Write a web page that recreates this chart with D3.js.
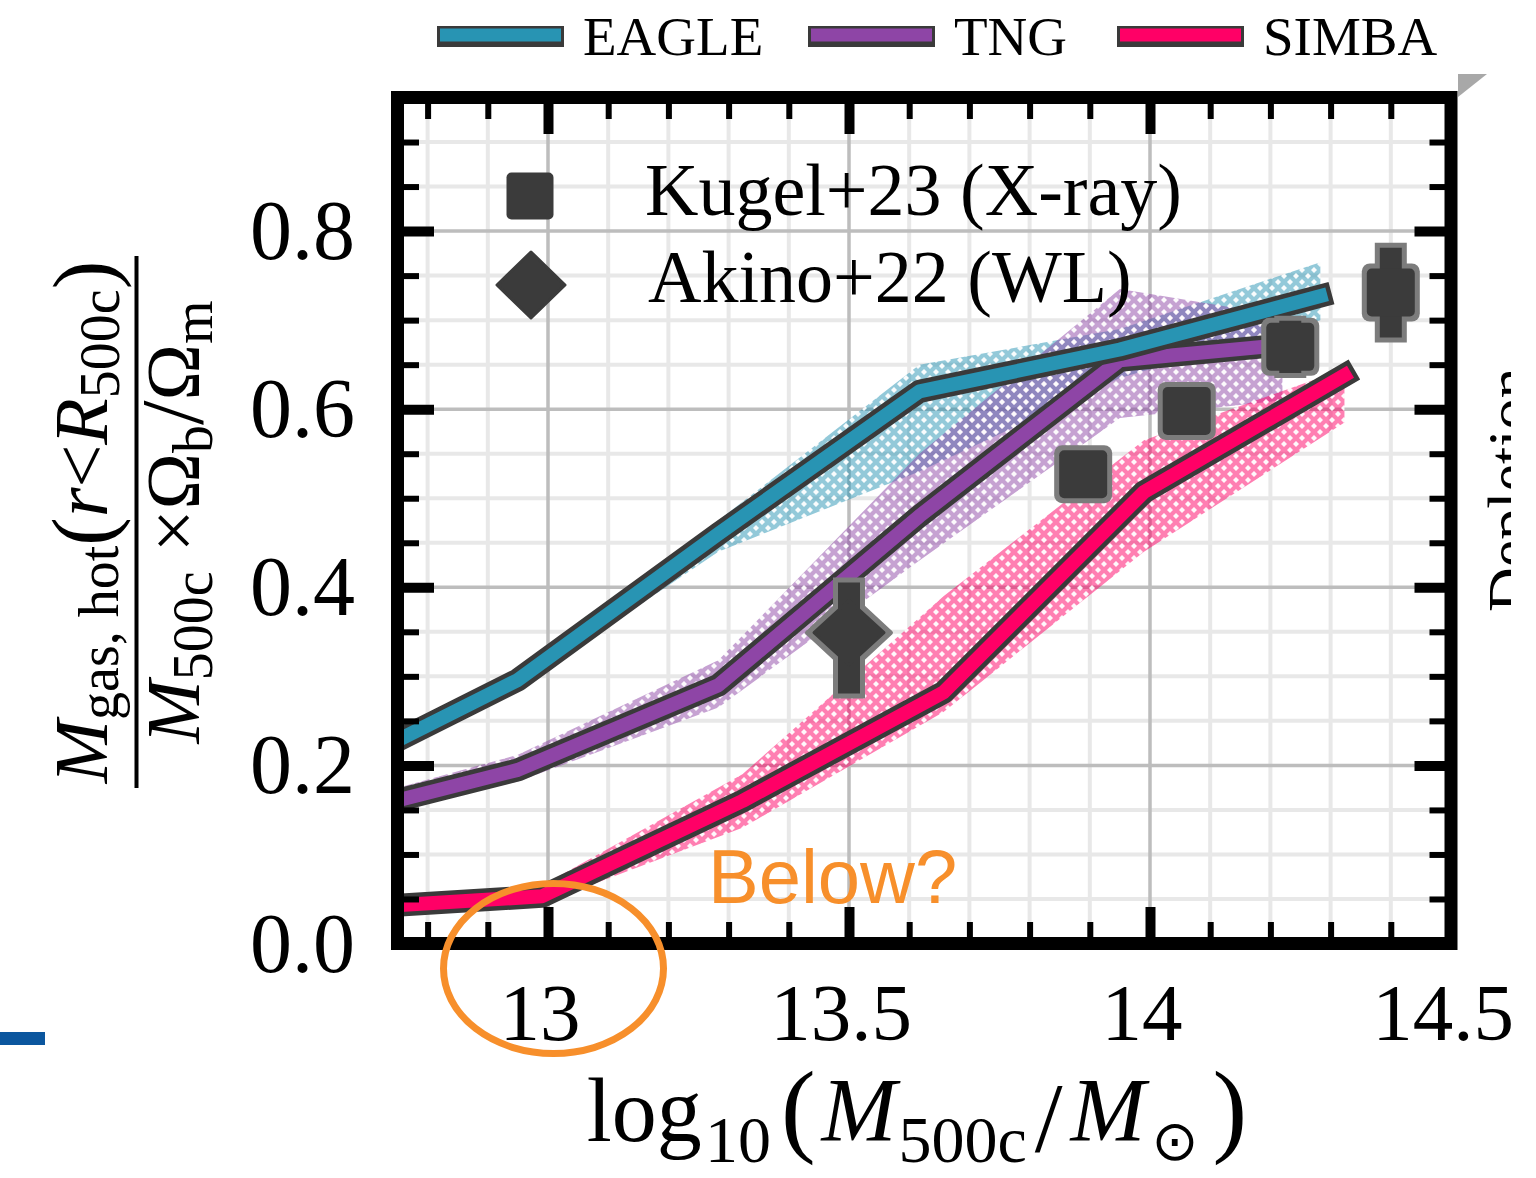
<!DOCTYPE html>
<html>
<head>
<meta charset="utf-8">
<script src="https://cdn.jsdelivr.net/npm/d3@7"></script>
<style>
  html, body { margin: 0; padding: 0; background: #ffffff; }
  svg { display: block; }
</style>
</head>
<body>
<svg id="chart" width="1536" height="1178"></svg>
<script>
// ---------- data ----------
const seriesNames = ["EAGLE", "TNG", "SIMBA"];

const eagleMass = [12.617, 12.95, 13.283, 13.617, 13.95, 14.283];
const eagleFrac = [0.183, 0.296, 0.46, 0.62, 0.667, 0.727];
const eagleLow  = [0.178, 0.288, 0.44, 0.53, 0.635, 0.70];
const eagleHigh = [0.190, 0.304, 0.475, 0.65, 0.69, 0.765];

const tngMass = [12.617, 12.95, 13.283, 13.617, 13.95, 14.22];
const tngFrac = [0.138, 0.195, 0.29, 0.48, 0.655, 0.672];
const tngLow  = [0.128, 0.182, 0.265, 0.43, 0.59, 0.61];
const tngHigh = [0.150, 0.212, 0.318, 0.55, 0.735, 0.705];

const simbaMass = [12.657, 12.99, 13.323, 13.657, 13.99, 14.323];
const simbaFrac = [0.039, 0.053, 0.16, 0.282, 0.507, 0.638];
const simbaLow  = [0.034, 0.045, 0.13, 0.26, 0.44, 0.585];
const simbaHigh = [0.045, 0.065, 0.19, 0.39, 0.565, 0.645];

const kugelMass = [13.889, 14.061, 14.233, 14.40];
const kugelFrac = [0.527, 0.598, 0.670, 0.731];
const kugelErr  = [0.02, 0.02, 0.035, 0.056];

const akinoMass = [13.5];
const akinoFrac = [0.349];
const akinoErrLow  = [0.074];
const akinoErrHigh = [0.062];

const xDomain = [12.75, 14.5];
const yDomain = [0, 0.95];
const xMajorTicks = [13, 13.5, 14];
const xLabelTicks = [13, 13.5, 14, 14.5];
const xLabelText  = ["13", "13.5", "14", "14.5"];
const yMajorTicks = [0, 0.2, 0.4, 0.6, 0.8];
const yLabelText  = ["0.0", "0.2", "0.4", "0.6", "0.8"];

const pointLabels = ["Kugel+23 (X-ray)", "Akino+22 (WL)"];

// ---------- styles ----------
const colors = { EAGLE: "#2894b3", TNG: "#8e45a6", SIMBA: "#ff0066" };
const outline = "#3a3a3a";
const markerFill = "#3b3b3b";
const markerEdge = "#7c7c7c";
const serif = "'Liberation Serif', 'Times New Roman', serif";
const sans = "'Liberation Sans', Arial, sans-serif";
const orange = "#f78f2b";

const svg = d3.select("#chart");
const defs = svg.append("defs");

defs.append("clipPath").attr("id", "pageClip")
  .append("rect").attr("x", 0).attr("y", 0).attr("width", 1511).attr("height", 1178);

const page = svg.append("g").attr("clip-path", "url(#pageClip)");

const x = d3.scaleLinear().domain(xDomain).range([397.5, 1451]);
const y = d3.scaleLinear().domain(yDomain).range([943.5, 97.5]);

defs.append("clipPath").attr("id", "plotClip")
  .append("rect")
  .attr("x", x(xDomain[0])).attr("y", y(yDomain[1]))
  .attr("width", x(xDomain[1]) - x(xDomain[0]))
  .attr("height", y(yDomain[0]) - y(yDomain[1]));

// cross-hatch fills for the scatter bands
function hatch(id, color) {
  const s = 12;
  const p = defs.append("pattern").attr("id", id)
    .attr("patternUnits", "userSpaceOnUse").attr("width", s).attr("height", s);
  p.append("rect").attr("width", s).attr("height", s).attr("fill", color).attr("fill-opacity", 0.5);
  const d = 3;
  [[0, 0], [s, 0], [0, s], [s, s], [s / 2, s / 2]].forEach(([cx, cy]) => {
    p.append("path")
      .attr("d", `M${cx},${cy - d}L${cx + d},${cy}L${cx},${cy + d}L${cx - d},${cy}Z`)
      .attr("fill", "#ffffff").attr("fill-opacity", 0.95);
  });
}
hatch("hatch-EAGLE", colors.EAGLE);
hatch("hatch-TNG", colors.TNG);
hatch("hatch-SIMBA", colors.SIMBA);

// ---------- grid ----------
const grid = page.append("g");
const xMinor = d3.range(128, 145).map(v => v / 10).filter(v => !xMajorTicks.includes(v));
const yMinor = d3.range(1, 19).map(v => v / 20).filter(v => !yMajorTicks.some(t => Math.abs(t - v) < 1e-9));

grid.selectAll(".gx").data(xMinor).join("line")
  .attr("x1", d => x(d)).attr("x2", d => x(d))
  .attr("y1", y(yDomain[0])).attr("y2", y(yDomain[1]))
  .attr("stroke", "#e8e8e8").attr("stroke-width", 4);
grid.selectAll(".gy").data(yMinor).join("line")
  .attr("y1", d => y(d)).attr("y2", d => y(d))
  .attr("x1", x(xDomain[0])).attr("x2", x(xDomain[1]))
  .attr("stroke", "#e8e8e8").attr("stroke-width", 4);
grid.selectAll(".gX").data(xMajorTicks).join("line")
  .attr("x1", d => x(d)).attr("x2", d => x(d))
  .attr("y1", y(yDomain[0])).attr("y2", y(yDomain[1]))
  .attr("stroke", "#bdbdbd").attr("stroke-width", 3.5);
grid.selectAll(".gY").data(yMajorTicks.filter(v => v > 0)).join("line")
  .attr("y1", d => y(d)).attr("y2", d => y(d))
  .attr("x1", x(xDomain[0])).attr("x2", x(xDomain[1]))
  .attr("stroke", "#bdbdbd").attr("stroke-width", 3.5);

// ---------- bands and lines ----------
const series = {
  EAGLE: { m: eagleMass, f: eagleFrac, lo: eagleLow, hi: eagleHigh },
  TNG:   { m: tngMass,   f: tngFrac,   lo: tngLow,   hi: tngHigh },
  SIMBA: { m: simbaMass, f: simbaFrac, lo: simbaLow, hi: simbaHigh }
};

const plot = page.append("g").attr("clip-path", "url(#plotClip)");

const area = d3.area().x(d => x(d.m)).y0(d => y(d.lo)).y1(d => y(d.hi));
const line = d3.line().x(d => x(d.m)).y(d => y(d.f));

const rows = name => series[name].m.map((m, i) => ({
  m, f: series[name].f[i], lo: series[name].lo[i], hi: series[name].hi[i]
}));

seriesNames.forEach(name => {
  plot.append("path").datum(rows(name))
    .attr("d", area).attr("fill", `url(#hatch-${name})`);
});

["SIMBA", "TNG", "EAGLE"].forEach(name => {
  const g = plot.append("g");
  g.append("path").datum(rows(name)).attr("d", line)
    .attr("fill", "none").attr("stroke", outline).attr("stroke-width", 23)
    .attr("stroke-linecap", "square").attr("stroke-linejoin", "round");
  g.append("path").datum(rows(name)).attr("d", line)
    .attr("fill", "none").attr("stroke", colors[name]).attr("stroke-width", 14)
    .attr("stroke-linecap", "square").attr("stroke-linejoin", "round");
});

// ---------- observational points ----------
const obs = page.append("g");
const kugel = kugelMass.map((m, i) => ({ m, f: kugelFrac[i], e: kugelErr[i] }));
const akino = akinoMass.map((m, i) => ({ m, f: akinoFrac[i], lo: akinoErrLow[i], hi: akinoErrHigh[i] }));

const sqOuter = 58, sqInner = 48, barOuter = 32, barInner = 22, edge = 5;

// grey edge layer
kugel.forEach(d => {
  obs.append("line").attr("x1", x(d.m)).attr("x2", x(d.m))
    .attr("y1", y(d.f + d.e)).attr("y2", y(d.f - d.e))
    .attr("stroke", markerEdge).attr("stroke-width", barOuter);
  obs.append("rect").attr("x", x(d.m) - sqOuter / 2).attr("y", y(d.f) - sqOuter / 2)
    .attr("width", sqOuter).attr("height", sqOuter).attr("rx", 8)
    .attr("fill", markerEdge);
});
akino.forEach(d => {
  obs.append("line").attr("x1", x(d.m)).attr("x2", x(d.m))
    .attr("y1", y(d.f + d.hi)).attr("y2", y(d.f - d.lo))
    .attr("stroke", markerEdge).attr("stroke-width", barOuter);
  const cx = x(d.m), cy = y(d.f), a = 42, b = 39;
  obs.append("path").attr("d", `M${cx},${cy - b}L${cx + a},${cy}L${cx},${cy + b}L${cx - a},${cy}Z`)
    .attr("fill", markerEdge).attr("stroke", markerEdge).attr("stroke-width", 4).attr("stroke-linejoin", "round");
});
// dark fill layer
kugel.forEach(d => {
  obs.append("line").attr("x1", x(d.m)).attr("x2", x(d.m))
    .attr("y1", y(d.f + d.e) + edge).attr("y2", y(d.f - d.e) - edge)
    .attr("stroke", markerFill).attr("stroke-width", barInner);
  obs.append("rect").attr("x", x(d.m) - sqInner / 2).attr("y", y(d.f) - sqInner / 2)
    .attr("width", sqInner).attr("height", sqInner).attr("rx", 5)
    .attr("fill", markerFill);
});
akino.forEach(d => {
  obs.append("line").attr("x1", x(d.m)).attr("x2", x(d.m))
    .attr("y1", y(d.f + d.hi) + edge).attr("y2", y(d.f - d.lo) - edge)
    .attr("stroke", markerFill).attr("stroke-width", barInner);
  const cx = x(d.m), cy = y(d.f), a = 35, b = 32;
  obs.append("path").attr("d", `M${cx},${cy - b}L${cx + a},${cy}L${cx},${cy + b}L${cx - a},${cy}Z`)
    .attr("fill", markerFill).attr("stroke", markerFill).attr("stroke-width", 3).attr("stroke-linejoin", "round");
});

// ---------- axes: inward ticks on all four sides ----------
const spineW = 13;
const majLen = 30 + spineW / 2, minLen = 15 + spineW / 2;

function styleAxis(g, w) {
  g.select(".domain").remove();
  g.selectAll(".tick line").attr("stroke", "#000").attr("stroke-width", w);
  g.selectAll(".tick text").remove();
}
const axes = page.append("g");
[[d3.axisBottom, y(0)], [d3.axisTop, y(yDomain[1])]].forEach(([fn, pos]) => {
  axes.append("g").attr("transform", `translate(0,${pos})`)
    .call(fn(x).tickValues(xMinor).tickSize(-minLen)).call(g => styleAxis(g, 6));
  axes.append("g").attr("transform", `translate(0,${pos})`)
    .call(fn(x).tickValues(xMajorTicks).tickSize(-majLen)).call(g => styleAxis(g, 10));
});
[[d3.axisLeft, x(xDomain[0])], [d3.axisRight, x(xDomain[1])]].forEach(([fn, pos]) => {
  axes.append("g").attr("transform", `translate(${pos},0)`)
    .call(fn(y).tickValues(yMinor).tickSize(-minLen)).call(g => styleAxis(g, 6));
  axes.append("g").attr("transform", `translate(${pos},0)`)
    .call(fn(y).tickValues(yMajorTicks).tickSize(-majLen)).call(g => styleAxis(g, 10));
});

// frame
page.append("rect")
  .attr("x", x(xDomain[0])).attr("y", y(yDomain[1]))
  .attr("width", x(xDomain[1]) - x(xDomain[0]))
  .attr("height", y(yDomain[0]) - y(yDomain[1]))
  .attr("fill", "none").attr("stroke", "#000").attr("stroke-width", spineW);

// tick labels
page.selectAll(".xl").data(xLabelTicks).join("text")
  .attr("x", d => x(d) - 8).attr("y", 1040)
  .attr("text-anchor", "middle")
  .style("font-family", serif).style("font-size", "81px").attr("fill", "#000")
  .text((d, i) => xLabelText[i]);
page.selectAll(".yl").data(yMajorTicks).join("text")
  .attr("x", 355).attr("y", d => y(d) + 28)
  .attr("text-anchor", "end")
  .style("font-family", serif).style("font-size", "84px").attr("fill", "#000")
  .text((d, i) => yLabelText[i]);

// x-axis title: log10(M500c / Msun)
const xt = page.append("text").attr("x", 917).attr("y", 1141).attr("text-anchor", "middle")
  .style("font-family", serif).style("font-size", "90px").attr("fill", "#000");
xt.append("tspan").text("log");
xt.append("tspan").attr("dx", 3).attr("dy", 21).style("font-size", "66px").text("10");
xt.append("tspan").attr("dx", 10).attr("dy", -19).style("font-size", "104px").text("(");
xt.append("tspan").attr("dx", 6).attr("dy", -2).style("font-style", "italic").text("M");
xt.append("tspan").attr("dx", 2).attr("dy", 21).style("font-size", "66px").text("500c");
xt.append("tspan").attr("dx", 8).attr("dy", -11).style("font-size", "100px").text("/");
xt.append("tspan").attr("dx", 8).attr("dy", -10).style("font-style", "italic").text("M");
xt.append("tspan").attr("dx", 6).attr("dy", 19).style("font-size", "56px").style("font-family", "'DejaVu Sans', sans-serif").text("\u2299");
xt.append("tspan").attr("dx", 14).attr("dy", -17).style("font-size", "104px").text(")");

// y-axis title: hot gas fraction as a stacked fraction
const yt = page.append("g").attr("transform", "translate(0,522) rotate(-90)");
const num = yt.append("text").attr("x", 0).attr("y", 107).attr("text-anchor", "middle")
  .style("font-family", serif).style("font-size", "76px").attr("fill", "#000");
num.append("tspan").style("font-style", "italic").text("M");
num.append("tspan").attr("dy", 11).style("font-size", "56px").text("gas, hot");
num.append("tspan").attr("dy", -6).style("font-size", "86px").text("(");
num.append("tspan").attr("dy", -5).style("font-style", "italic").text("r");
num.append("tspan").text("<");
num.append("tspan").style("font-style", "italic").text("R");
num.append("tspan").attr("dy", 12).style("font-size", "56px").text("500c");
num.append("tspan").attr("dy", -6).style("font-size", "86px").text(")");
yt.append("line").attr("x1", -266).attr("x2", 266).attr("y1", 136.5).attr("y2", 136.5)
  .attr("stroke", "#000").attr("stroke-width", 4);
const den = yt.append("text").attr("x", 0).attr("y", 199).attr("text-anchor", "middle")
  .style("font-family", serif).style("font-size", "76px").attr("fill", "#000");
den.append("tspan").style("font-style", "italic").text("M");
den.append("tspan").attr("dy", 13).style("font-size", "56px").text("500c");
den.append("tspan").attr("dy", -13).text(" \u00d7\u03a9");
den.append("tspan").attr("dy", 13).style("font-size", "56px").text("b");
den.append("tspan").attr("dy", -10).style("font-size", "88px").text("/");
den.append("tspan").attr("dy", -3).text("\u03a9");
den.append("tspan").attr("dy", 13).style("font-size", "56px").text("m");

// ---------- in-plot legend ----------
const leg = page.append("g");
leg.append("rect").attr("x", 530 - 23.5).attr("y", 196 - 23.5).attr("width", 47).attr("height", 47)
  .attr("rx", 5).attr("fill", markerFill);
leg.append("path").attr("d", "M531,252L565,285L531,318L497,285Z")
  .attr("fill", markerFill).attr("stroke", markerFill).attr("stroke-width", 3).attr("stroke-linejoin", "round");
leg.append("text").attr("x", 645).attr("y", 215)
  .style("font-family", serif).style("font-size", "74px").attr("fill", "#000").text(pointLabels[0]);
leg.append("text").attr("x", 648).attr("y", 302)
  .style("font-family", serif).style("font-size", "74px").attr("fill", "#000").text(pointLabels[1]);

// ---------- top legend ----------
const topLeg = page.append("g");
const legX = [437, 808, 1117];
seriesNames.forEach((name, i) => {
  topLeg.append("rect").attr("x", legX[i]).attr("y", 26).attr("width", 127).attr("height", 21)
    .attr("fill", outline);
  topLeg.append("rect").attr("x", legX[i] + 3).attr("y", 28.5).attr("width", 121).attr("height", 13)
    .attr("fill", colors[name]);
  topLeg.append("text").attr("x", legX[i] + 146).attr("y", 55)
    .style("font-family", serif).style("font-size", "55px").attr("fill", "#000").text(name);
});

// ---------- surrounding annotations ----------
page.append("path").attr("d", "M1458,74L1487,74L1458,97Z").attr("fill", "#a8a8a8");

page.append("text").attr("transform", "translate(1530,612) rotate(-90)")
  .style("font-family", serif).style("font-size", "62px").attr("fill", "#000")
  .text("Depletion");

page.append("rect").attr("x", 0).attr("y", 1032).attr("width", 45).attr("height", 13).attr("fill", "#0b569e");

page.append("ellipse").attr("cx", 553.5).attr("cy", 968.5).attr("rx", 110).attr("ry", 85)
  .attr("fill", "none").attr("stroke", orange).attr("stroke-width", 7);
page.append("text").attr("x", 708).attr("y", 903)
  .style("font-family", sans).style("font-size", "76px").attr("fill", orange).text("Below?");
</script>
</body>
</html>
